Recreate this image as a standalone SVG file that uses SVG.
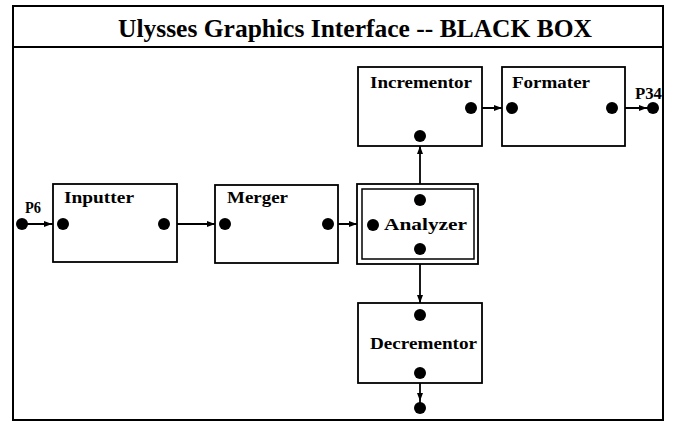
<svg xmlns="http://www.w3.org/2000/svg" width="673" height="422" viewBox="0 0 673 422">
  <style>
    .frame { fill: #fff; stroke: #000; stroke-width: 2; }
    .box { fill: #fff; stroke: #000; stroke-width: 1.8; }
    .inner { fill: none; stroke: #000; stroke-width: 1.5; }
    .dot { fill: #000; }
    .wire { fill: none; stroke: #000; stroke-width: 1.8; marker-mid: url(#arrow); }
    .lbl { font-family: "Liberation Serif", "DejaVu Serif", serif; font-weight: bold; font-size: 17px; fill: #000; }
    .title { font-family: "Liberation Serif", "DejaVu Serif", serif; font-weight: bold; font-size: 25px; fill: #000; }
  </style>
  <defs>
    <marker id="arrow" markerUnits="userSpaceOnUse" markerWidth="9" markerHeight="7" refX="8" refY="3" orient="auto">
      <path d="M0,0 L8,3 L0,6 z" fill="#000"/>
    </marker>
  </defs>

  <rect width="673" height="422" fill="#fff"/>

  <!-- outer frame with title bar -->
  <g id="frame">
    <rect class="frame" x="13" y="6" width="650" height="414"/>
    <line x1="13" y1="47" x2="663" y2="47" stroke="#000" stroke-width="2"/>
    <text class="title" x="118" y="37" textLength="474" lengthAdjust="spacingAndGlyphs">Ulysses Graphics Interface -- BLACK BOX</text>
  </g>

  <!-- connectors -->
  <g id="connectors">
    <path class="wire" d="M22,224 L52,224 L63,224"/>
    <path class="wire" d="M164,224 L215,224 L225,224"/>
    <path class="wire" d="M328,224 L357,224 L373,224"/>
    <path class="wire" d="M420,200 L420,146 L420,136"/>
    <path class="wire" d="M420,249 L420,303 L420,315"/>
    <path class="wire" d="M471,108 L502,108 L512,108"/>
    <path class="wire" d="M612,108 L647,108 L653,108"/>
    <path class="wire" d="M420,373 L420,401 L420,408"/>
  </g>

  <!-- external ports -->
  <g id="port-p6">
    <circle class="dot" cx="22" cy="224" r="6"/>
    <text class="lbl" x="25" y="213" textLength="16" lengthAdjust="spacingAndGlyphs">P6</text>
  </g>
  <g id="port-p34">
    <circle class="dot" cx="653" cy="108" r="6"/>
    <text class="lbl" x="635" y="99" textLength="27" lengthAdjust="spacingAndGlyphs">P34</text>
  </g>
  <g id="port-out">
    <circle class="dot" cx="420" cy="408" r="6"/>
  </g>

  <g id="inputter">
    <rect class="box" x="53" y="184" width="124" height="78"/>
    <text class="lbl" x="64" y="203" textLength="70" lengthAdjust="spacingAndGlyphs">Inputter</text>
    <circle class="dot" cx="63" cy="224" r="6"/>
    <circle class="dot" cx="164" cy="224" r="6"/>
  </g>

  <g id="merger">
    <rect class="box" x="215" y="185" width="123" height="78"/>
    <text class="lbl" x="227" y="203" textLength="61" lengthAdjust="spacingAndGlyphs">Merger</text>
    <circle class="dot" cx="225" cy="224" r="6"/>
    <circle class="dot" cx="328" cy="224" r="6"/>
  </g>

  <g id="analyzer">
    <rect class="box" x="357" y="184" width="121" height="80"/>
    <rect class="inner" x="362" y="189" width="112" height="70"/>
    <text class="lbl" x="384" y="230" textLength="83" lengthAdjust="spacingAndGlyphs">Analyzer</text>
    <circle class="dot" cx="373" cy="225" r="6"/>
    <circle class="dot" cx="420" cy="200" r="6"/>
    <circle class="dot" cx="420" cy="249" r="6"/>
  </g>

  <g id="incrementor">
    <rect class="box" x="358" y="67" width="124" height="79"/>
    <text class="lbl" x="370" y="88" textLength="102" lengthAdjust="spacingAndGlyphs">Incrementor</text>
    <circle class="dot" cx="471" cy="108" r="6"/>
    <circle class="dot" cx="420" cy="136" r="6"/>
  </g>

  <g id="formater">
    <rect class="box" x="502" y="67" width="123" height="79"/>
    <text class="lbl" x="512" y="88" textLength="78" lengthAdjust="spacingAndGlyphs">Formater</text>
    <circle class="dot" cx="512" cy="108" r="6"/>
    <circle class="dot" cx="612" cy="108" r="6"/>
  </g>

  <g id="decrementor">
    <rect class="box" x="358" y="303" width="124" height="80"/>
    <text class="lbl" x="370" y="349" textLength="107" lengthAdjust="spacingAndGlyphs">Decrementor</text>
    <circle class="dot" cx="420" cy="315" r="6"/>
    <circle class="dot" cx="420" cy="373" r="6"/>
  </g>
</svg>
